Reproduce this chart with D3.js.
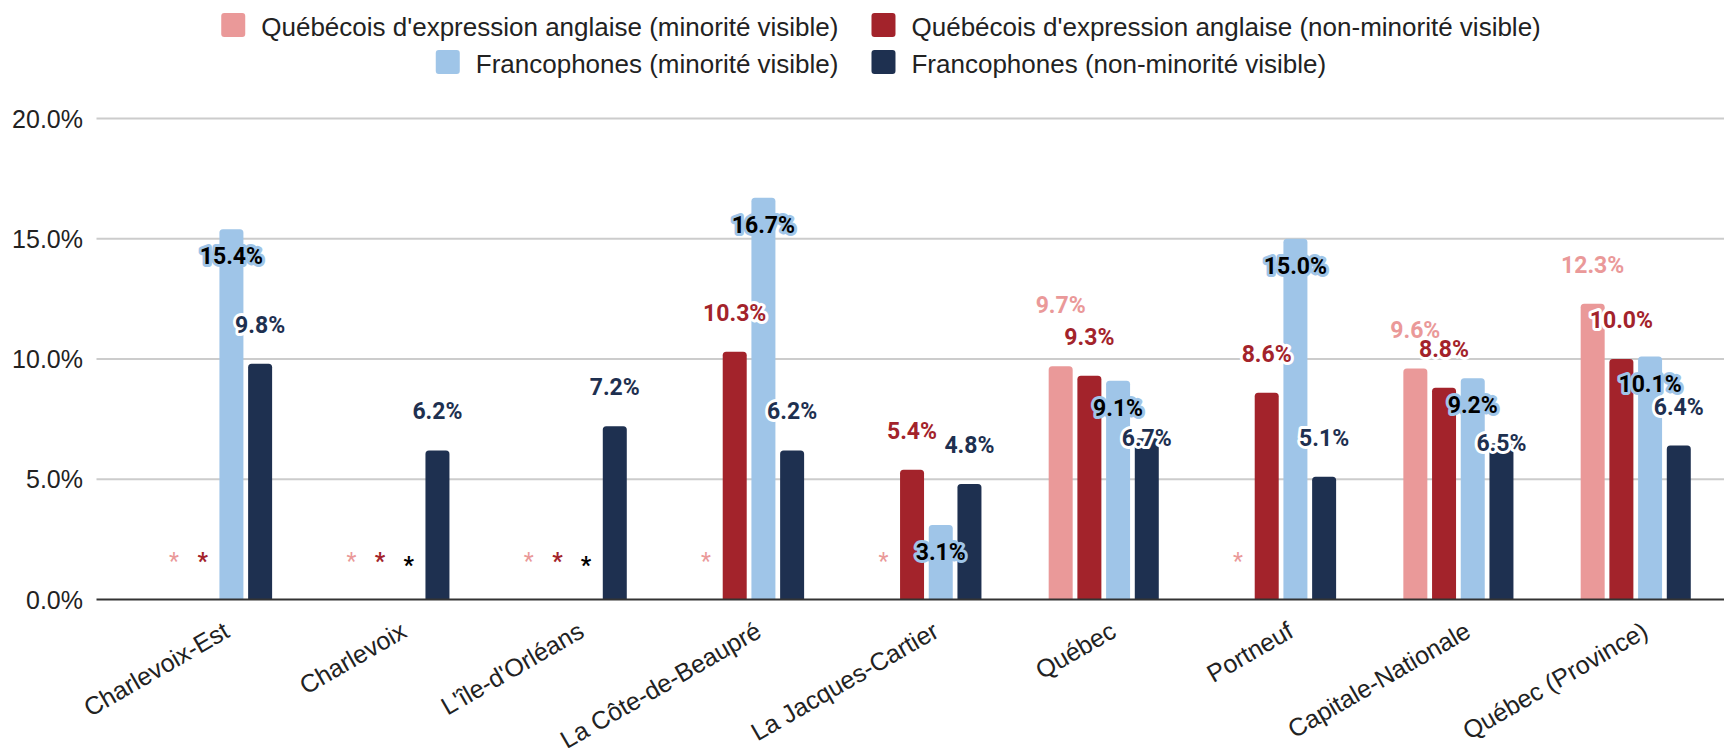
<!DOCTYPE html>
<html><head><meta charset="utf-8">
<script src="https://cdn.jsdelivr.net/npm/d3@7"></script>
<style>body{margin:0;background:#fff}svg{display:block}</style>
</head><body>
<svg id="chart" width="1735" height="748"></svg>
<script>
// ---- data ----
const categories = ["Charlevoix-Est", "Charlevoix", "L'île-d'Orléans", "La Côte-de-Beaupré", "La Jacques-Cartier", "Québec", "Portneuf", "Capitale-Nationale", "Québec (Province)"];
const seriesNames = ["Québécois d'expression anglaise (minorité visible)", "Québécois d'expression anglaise (non-minorité visible)", "Francophones (minorité visible)", "Francophones (non-minorité visible)"];
// null = suppressed value (shown as "*")
const angloMinVis    = [null, null, null, null, null, 9.7, null, 9.6, 12.3];
const angloNonMinVis = [null, null, null, 10.3, 5.4, 9.3, 8.6, 8.8, 10.0];
const francoMinVis   = [15.4, null, null, 16.7, 3.1, 9.1, 15.0, 9.2, 10.1];
const francoNonMinVis= [9.8, 6.2, 7.2, 6.2, 4.8, 6.7, 5.1, 6.5, 6.4];
const yTicks = [0, 5, 10, 15, 20];

const seriesValues = [angloMinVis, angloNonMinVis, francoMinVis, francoNonMinVis];
const colors = ["#ea9999", "#a3232b", "#9fc5e8", "#1e3050"];
const labelColors = ["#ea9999", "#a3232b", "#000000", "#1e3050"];

// ---- layout ----
const svg = d3.select("#chart");
const plotLeft = 96.5, plotRight = 1724;
const y = d3.scaleLinear().domain([0, 20]).range([599.5, 118.5]);
const x0 = d3.scaleBand().domain(categories).range([128.4, 1724.4]);
const x1 = d3.scaleBand().domain(d3.range(4)).range([-55.05, 55.05]).paddingInner(0.164);
const fmt = v => d3.format(".1f")(v) + "%";
const sansFont = "'Liberation Sans', Arial, sans-serif";
const labFont = "Roboto, 'Noto Sans', sans-serif";

// grid
svg.append("g").selectAll("line").data(yTicks.filter(t => t > 0)).join("line")
  .attr("x1", plotLeft).attr("x2", plotRight)
  .attr("y1", d => y(d)).attr("y2", d => y(d))
  .attr("stroke", "#cccccc").attr("stroke-width", 2);

// y labels
svg.append("g").selectAll("text").data(yTicks).join("text")
  .attr("x", 83).attr("y", d => y(d) + 9)
  .attr("text-anchor", "end")
  .attr("font-family", sansFont).attr("font-size", 25).attr("fill", "#222")
  .text(d => d3.format(".1f")(d) + "%");

// bars
function barPath(x, yTop, w, h, r) {
  r = Math.min(r, h, w / 2);
  return `M${x},${yTop + h}V${yTop + r}Q${x},${yTop} ${x + r},${yTop}H${x + w - r}Q${x + w},${yTop} ${x + w},${yTop + r}V${yTop + h}Z`;
}
const barData = [];
categories.forEach((c, ci) => {
  seriesValues.forEach((vals, si) => {
    barData.push({c, ci, si, v: vals[ci]});
  });
});
svg.append("g").selectAll("path").data(barData.filter(d => d.v != null)).join("path")
  .attr("d", d => {
    const bx = x0(d.c) + x0.bandwidth() / 2 + x1(d.si);
    const top = y(d.v);
    return barPath(bx, top, x1.bandwidth(), y(0) - top, 3.5);
  })
  .attr("fill", d => colors[d.si]);

// baseline
svg.append("line").attr("x1", plotLeft).attr("x2", plotRight)
  .attr("y1", y(0)).attr("y2", y(0)).attr("stroke", "#333").attr("stroke-width", 2);

// x labels
svg.append("g").selectAll("text").data(categories).join("text")
  .attr("transform", d => `translate(${x0(d) + x0.bandwidth() / 2 + 14},${636}) rotate(-30)`)
  .attr("text-anchor", "end")
  .attr("font-family", sansFont).attr("font-size", 25).attr("fill", "#222")
  .text(d => d);

// data labels with simple collision avoidance
const labG = svg.append("g");
const placed = [];
const order = [2, 1, 3, 0];
const boxH = 18;
function measure(txt) {
  const t = labG.append("text").attr("font-family", labFont).attr("font-weight", 700).attr("font-size", 23).text(txt);
  const w = t.node().getComputedTextLength();
  t.remove();
  return w;
}
const labels = [];
order.forEach(si => {
  categories.forEach((c, ci) => {
    const v = seriesValues[si][ci];
    const cx = x0(c) + x0.bandwidth() / 2 + x1(si) + x1.bandwidth() / 2;
    if (v == null) {
      labels.push({x: cx, y: y(0) - 39 + (si === 2 ? 4 : 0), text: "*", si, star: true});
      return;
    }
    const top = y(v);
    const txt = fmt(v);
    const w = measure(txt);
    let ly;
    if (si === 2) {
      ly = top + 27;
    } else {
      ly = top - 39;
      for (const p of placed) {
        if (Math.abs(p.x - cx) < (p.w + w) / 2 && Math.abs(p.y - ly) < boxH) {
          if (p.x < cx) ly = top; else ly = p.y - 32;
          break;
        }
      }
    }
    const lab = {x: cx, y: ly, w, text: txt, si, star: false};
    placed.push(lab);
    labels.push(lab);
  });
});
labG.selectAll("text").data(labels).join("text")
  .attr("x", d => d.x).attr("y", d => d.y).attr("dy", "0.35em")
  .attr("text-anchor", "middle")
  .attr("font-family", labFont).attr("font-weight", d => (d.star && d.si === 0) ? 400 : 700)
  .attr("font-size", 23)
  .attr("fill", d => labelColors[d.si])
  .attr("stroke", d => d.star ? "none" : (d.si === 2 ? colors[2] : "#ffffff"))
  .attr("stroke-width", 6).attr("stroke-linejoin", "round")
  .attr("paint-order", "stroke")
  .text(d => d.text);

// legend
const legRows = [[0, 1], [2, 3]];
const legBase = [36, 73];
const legCenter = 881;
const legFont = 26;
const legG = svg.append("g");
function textW(txt) {
  const t = legG.append("text").attr("font-family", sansFont).attr("font-size", legFont).text(txt);
  const w = t.node().getComputedTextLength();
  t.remove();
  return w;
}
legRows.forEach((row, ri) => {
  const widths = row.map(si => 24 + 16 + textW(seriesNames[si]));
  const total = d3.sum(widths) + 33 * (row.length - 1);
  let cx = legCenter - total / 2;
  row.forEach((si, k) => {
    legG.append("rect").attr("x", cx).attr("y", legBase[ri] - 23).attr("width", 24).attr("height", 24)
      .attr("rx", 3).attr("fill", colors[si]);
    legG.append("text").attr("x", cx + 40).attr("y", legBase[ri])
      .attr("font-family", sansFont).attr("font-size", legFont).attr("fill", "#222")
      .text(seriesNames[si]);
    cx += widths[k] + 33;
  });
});
</script>
</body></html>
